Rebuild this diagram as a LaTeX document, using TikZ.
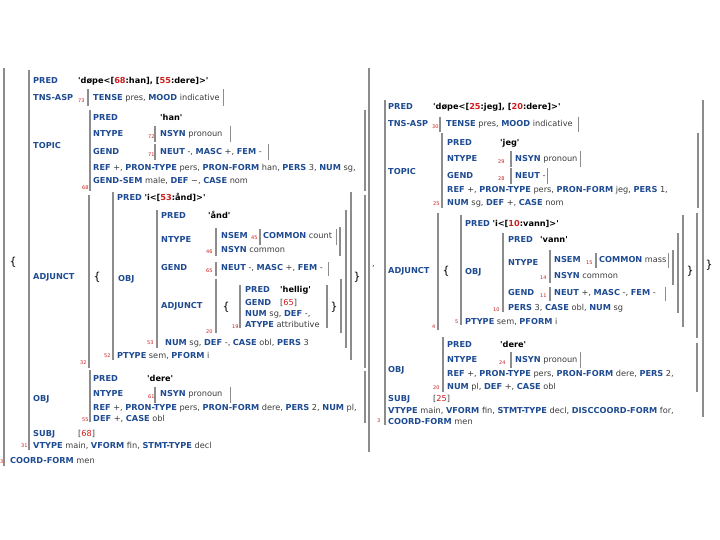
\documentclass[tikz,border=0pt]{standalone}
\usepackage{fontspec}
\setmainfont{DejaVu Sans}
\definecolor{attrc}{RGB}{30,75,145}
\definecolor{idred}{RGB}{205,30,30}
\definecolor{barc}{RGB}{140,140,140}
\definecolor{valc}{RGB}{60,60,60}
\newcounter{nd}
\newcommand{\Ab}[1]{\textcolor{attrc}{\textbf{#1}}}
\newcommand{\Rd}[1]{\textcolor{idred}{#1}}
\newcommand{\Vb}[1]{\textcolor{black}{\textbf{#1}}}
\newcommand{\q}{\textquotesingle}
\newcommand{\Tt}[3]{\stepcounter{nd}\node[txt] (t\arabic{nd}) at (#1,#2) {#3};}
\newcommand{\Lb}[3]{\stepcounter{nd}\node[lbl] (l\arabic{nd}) at (#1,#2) {#3};}
\newcommand{\Br}[3]{\stepcounter{nd}\node[brc] (b\arabic{nd}) at (#1,#2) {#3};}
\newcommand{\vb}[4][fbar]{\draw[#1] (#2,#3) -- (#2,#4);}
\begin{document}
\begin{tikzpicture}[x=1pt,y=-1pt,
  txt/.style={anchor=base west,inner sep=0pt,font=\fontsize{8.2}{10}\selectfont,text=valc,yshift=-2.9pt},
  lbl/.style={anchor=base west,inner sep=0pt,font=\fontsize{5}{6}\selectfont,text=idred,yshift=-1.8pt},
  brc/.style={anchor=center,inner sep=0pt,font=\fontsize{11}{12}\selectfont,text=black},
  fbar/.style={draw=barc,line width=1.8pt},
  fbarthin/.style={draw=barc,line width=0.9pt},
  fbarmid/.style={draw=barc,line width=1.4pt}]
\useasboundingbox[fill=white] (0,0) rectangle (720,540);
% ===== LEFT STRUCTURE =====
\vb{4}{68}{466}
\Lb{0}{462}{3}
\Tt{10}{461}{\Ab{COORD-FORM} men}
\Br{13}{262}{\{}
\vb{29}{70}{450}
\vb{369}{68}{452}
\Tt{33}{81}{\Ab{PRED}}
\Tt{78}{81}{\Vb{\q døpe<[\Rd{68}:han], [\Rd{55}:dere]>\q}}
\Tt{33}{98}{\Ab{TNS-ASP}}
\Lb{78}{101}{73}
\vb{88}{89}{106}
\Tt{93}{98}{\Ab{TENSE} pres, \Ab{MOOD} indicative}
\vb[fbarthin]{223}{89}{106}
% topic
\Tt{33}{146}{\Ab{TOPIC}}
\vb{90}{110}{191}
\Lb{82}{188}{68}
\Tt{93}{118}{\Ab{PRED}}
\Tt{160}{118}{\Vb{\q han\q}}
\Tt{93}{134}{\Ab{NTYPE}}
\Lb{148}{137}{72}
\vb{155}{126}{142}
\Tt{160}{134}{\Ab{NSYN} pronoun}
\vb[fbarthin]{230}{126}{142}
\Tt{93}{152}{\Ab{GEND}}
\Lb{148}{155}{71}
\vb{155}{144}{160}
\Tt{160}{152}{\Ab{NEUT} -, \Ab{MASC} +, \Ab{FEM} -}
\vb[fbarthin]{268}{144}{160}
\Tt{93}{168}{\Ab{REF} +, \Ab{PRON-TYPE} pers, \Ab{PRON-FORM} han, \Ab{PERS} 3, \Ab{NUM} sg,}
\Tt{93}{181}{\Ab{GEND-SEM} male, \Ab{DEF} −, \Ab{CASE} nom}
\vb{365}{110}{191}
% adjunct
\Tt{33}{277}{\Ab{ADJUNCT}}
\vb{89}{195}{368}
\Lb{80}{363}{32}
\Br{97}{277}{\{}
\vb{113}{192}{360}
\Lb{104}{356}{52}
\Tt{117}{198}{\Ab{PRED} \Vb{\q i<[\Rd{53}:ånd]>\q}}
\Tt{118}{279}{\Ab{OBJ}}
\vb{157}{210}{348}
\Lb{147}{343}{53}
\Tt{161}{216}{\Ab{PRED}}
\Tt{208}{216}{\Vb{\q ånd\q}}
\Tt{161}{240}{\Ab{NTYPE}}
\vb{216}{228}{256}
\Lb{206}{252}{46}
\Tt{221}{236}{\Ab{NSEM}}
\Lb{251}{238}{45}
\vb{260}{229}{245}
\Tt{263}{236}{\Ab{COMMON} count}
\vb[fbarthin]{336}{229}{245}
\Tt{221}{250}{\Ab{NSYN} common}
\vb[fbarmid]{340}{227}{256}
\Tt{161}{268}{\Ab{GEND}}
\Lb{206}{271}{65}
\vb{216}{262}{276}
\Tt{221}{268}{\Ab{NEUT} -, \Ab{MASC} +, \Ab{FEM} -}
\vb[fbarthin]{328}{262}{276}
\Tt{161}{306}{\Ab{ADJUNCT}}
\vb{216}{279}{333}
\Lb{206}{332}{20}
\Br{226}{307}{\{}
\vb{240}{285}{328}
\Lb{232}{327}{19}
\Tt{245}{290}{\Ab{PRED}}
\Tt{280}{290}{\Vb{\q hellig\q}}
\Tt{245}{303}{\Ab{GEND}}
\Tt{280}{303}{[\Rd{65}]}
\Tt{245}{314}{\Ab{NUM} sg, \Ab{DEF} -,}
\Tt{245}{325}{\Ab{ATYPE} attributive}
\vb[fbarmid]{327}{285}{328}
\Br{334}{307}{\}}
\vb[fbarmid]{341}{279}{333}
\Tt{165}{343}{\Ab{NUM} sg, \Ab{DEF} -, \Ab{CASE} obl, \Ab{PERS} 3}
\vb[fbarmid]{346}{210}{348}
\Tt{117}{356}{\Ab{PTYPE} sem, \Ab{PFORM} i}
\vb{351}{192}{360}
\Br{357}{277}{\}}
\vb{365}{195}{368}
% obj
\Tt{33}{399}{\Ab{OBJ}}
\vb{90}{370}{422}
\Lb{82}{420}{55}
\Tt{93}{379}{\Ab{PRED}}
\Tt{147}{379}{\Vb{\q dere\q}}
\Tt{93}{394}{\Ab{NTYPE}}
\Lb{148}{397}{61}
\vb{155}{387}{403}
\Tt{160}{394}{\Ab{NSYN} pronoun}
\vb[fbarthin]{230}{387}{403}
\Tt{93}{408}{\Ab{REF} +, \Ab{PRON-TYPE} pers, \Ab{PRON-FORM} dere, \Ab{PERS} 2, \Ab{NUM} pl,}
\Tt{93}{419}{\Ab{DEF} +, \Ab{CASE} obl}
\vb{365}{371}{423}
\Tt{33}{434}{\Ab{SUBJ}}
\Tt{78}{434}{[\Rd{68}]}
\Lb{21}{446}{31}
\Tt{33}{446}{\Ab{VTYPE} main, \Ab{VFORM} fin, \Ab{STMT-TYPE} decl}
\Tt{372}{264}{,}
% ===== RIGHT STRUCTURE =====
\vb{385}{100}{425}
\vb{703}{100}{417}
\Tt{388}{107}{\Ab{PRED}}
\Tt{433}{107}{\Vb{\q døpe<[\Rd{25}:jeg], [\Rd{20}:dere]>\q}}
\Tt{388}{124}{\Ab{TNS-ASP}}
\Lb{432}{127}{30}
\vb{440}{117}{132}
\Tt{446}{124}{\Ab{TENSE} pres, \Ab{MOOD} indicative}
\vb[fbarthin]{578}{117}{132}
% topic
\Tt{388}{172}{\Ab{TOPIC}}
\vb{442}{133}{208}
\Lb{433}{204}{25}
\Tt{447}{143}{\Ab{PRED}}
\Tt{500}{143}{\Vb{\q jeg\q}}
\Tt{447}{159}{\Ab{NTYPE}}
\Lb{498}{162}{29}
\vb{511}{151}{167}
\Tt{515}{159}{\Ab{NSYN} pronoun}
\vb[fbarthin]{580}{151}{167}
\Tt{447}{176}{\Ab{GEND}}
\Lb{498}{179}{28}
\vb{511}{168}{184}
\Tt{515}{176}{\Ab{NEUT} -}
\vb[fbarthin]{547}{168}{184}
\Tt{447}{190}{\Ab{REF} +, \Ab{PRON-TYPE} pers, \Ab{PRON-FORM} jeg, \Ab{PERS} 1,}
\Tt{447}{203}{\Ab{NUM} sg, \Ab{DEF} +, \Ab{CASE} nom}
\vb{698}{133}{208}
% adjunct
\Tt{388}{271}{\Ab{ADJUNCT}}
\vb{438}{213}{330}
\Lb{432}{327}{4}
\Br{446}{271}{\{}
\vb{461}{215}{325}
\Lb{455}{322}{5}
\Tt{465}{224}{\Ab{PRED} \Vb{\q i<[\Rd{10}:vann]>\q}}
\Tt{465}{272}{\Ab{OBJ}}
\vb{503}{233}{312}
\Lb{493}{310}{10}
\Tt{508}{240}{\Ab{PRED}}
\Tt{540}{240}{\Vb{\q vann\q}}
\Tt{508}{263}{\Ab{NTYPE}}
\vb{550}{250}{283}
\Lb{540}{278}{14}
\Tt{554}{260}{\Ab{NSEM}}
\Lb{586}{263}{15}
\vb{596}{253}{268}
\Tt{599}{260}{\Ab{COMMON} mass}
\vb[fbarthin]{668}{253}{268}
\Tt{554}{276}{\Ab{NSYN} common}
\vb[fbarmid]{673}{250}{285}
\Tt{508}{293}{\Ab{GEND}}
\Lb{540}{296}{11}
\vb{550}{287}{301}
\Tt{554}{293}{\Ab{NEUT} +, \Ab{MASC} -, \Ab{FEM} -}
\vb[fbarthin]{665}{287}{301}
\Tt{508}{308}{\Ab{PERS} 3, \Ab{CASE} obl, \Ab{NUM} sg}
\vb[fbarmid]{678}{233}{313}
\Tt{465}{322}{\Ab{PTYPE} sem, \Ab{PFORM} i}
\vb{683}{215}{327}
\Br{690}{271}{\}}
\vb{697}{213}{338}
% obj
\Tt{388}{370}{\Ab{OBJ}}
\vb{443}{337}{392}
\Lb{433}{388}{20}
\Tt{447}{345}{\Ab{PRED}}
\Tt{500}{345}{\Vb{\q dere\q}}
\Tt{447}{360}{\Ab{NTYPE}}
\Lb{499}{363}{24}
\vb{511}{352}{368}
\Tt{515}{360}{\Ab{NSYN} pronoun}
\vb[fbarthin]{580}{352}{368}
\Tt{447}{374}{\Ab{REF} +, \Ab{PRON-TYPE} pers, \Ab{PRON-FORM} dere, \Ab{PERS} 2,}
\Tt{447}{387}{\Ab{NUM} pl, \Ab{DEF} +, \Ab{CASE} obl}
\vb{697}{343}{392}
\Tt{388}{399}{\Ab{SUBJ}}
\Tt{433}{399}{[\Rd{25}]}
\Tt{388}{411}{\Ab{VTYPE} main, \Ab{VFORM} fin, \Ab{STMT-TYPE} decl, \Ab{DISCCOORD-FORM} for,}
\Lb{377}{421}{3}
\Tt{388}{422}{\Ab{COORD-FORM} men}
\Br{709}{265}{\}}
\end{tikzpicture}
\end{document}
